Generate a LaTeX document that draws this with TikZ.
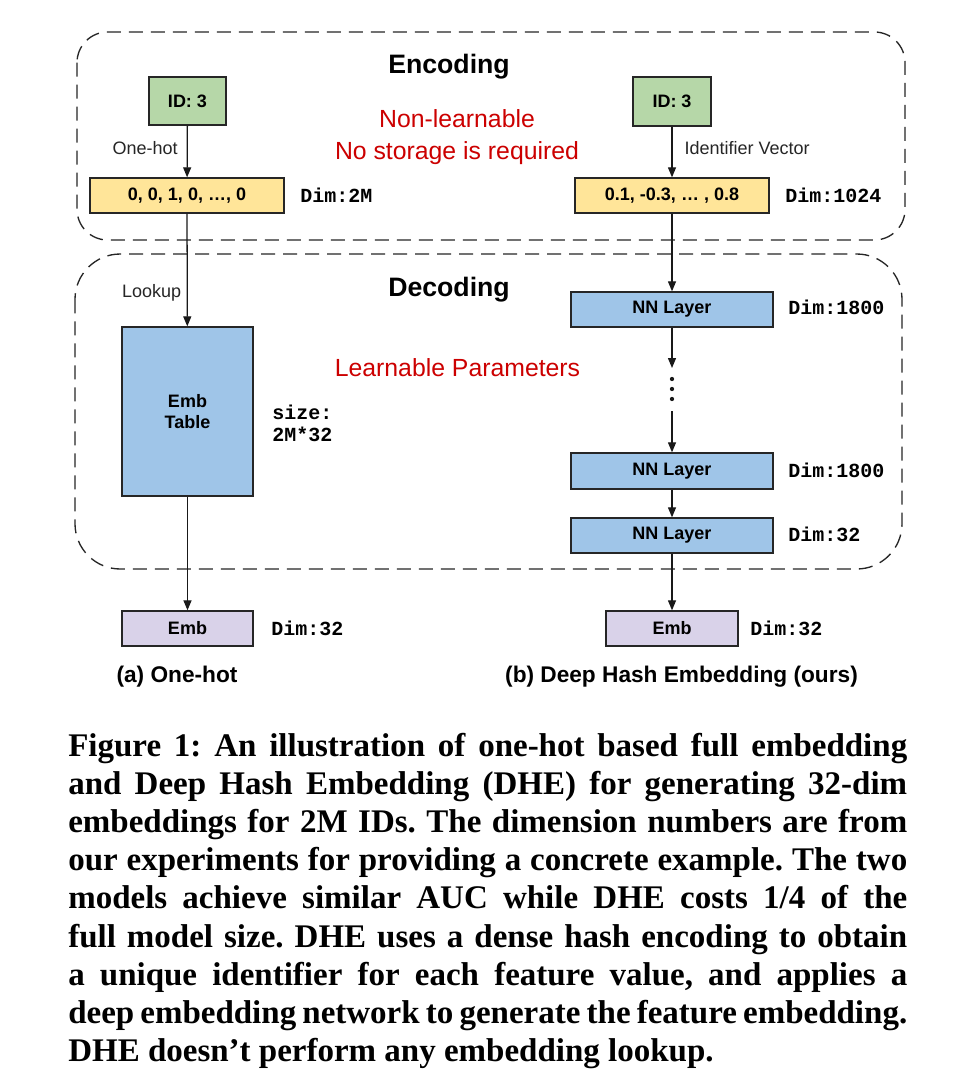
\documentclass[tikz,border=0pt]{standalone}
\usepackage{fontspec}
\setmainfont{Liberation Sans}
\newfontfamily\capfont{Liberation Serif}
\newfontfamily\monof{Liberation Mono}
\usetikzlibrary{arrows.meta}
\newdimen\px \px=0.75pt
\definecolor{gfill}{HTML}{B6D7A8}
\definecolor{yfill}{HTML}{FFE599}
\definecolor{bfill}{HTML}{9FC5E8}
\definecolor{pfill}{HTML}{D9D2E9}
\definecolor{redc}{HTML}{CC0000}
\newcommand{\capline}[1]{\hbox to \linewidth{\spaceskip=0.25em plus 1em minus 0.1em #1}}
\begin{document}
\begin{tikzpicture}[x=0.75pt,y=-0.75pt,
  box/.style={draw=black!85, line width=1pt, inner sep=0pt,
    font=\fontsize{13.5}{16}\selectfont\bfseries, text=black, align=center},
  lbl/.style={font=\fontsize{13.5}{16}\selectfont, inner sep=0pt, text=black!85},
  dimlbl/.style={font=\monof\fontsize{15}{16.5}\selectfont\bfseries, anchor=west, inner sep=0pt, align=left},
  ttl/.style={font=\fontsize{20}{24}\selectfont\bfseries, inner sep=0pt},
  redtxt/.style={text=redc, font=\fontsize{18.6}{24}\selectfont, inner sep=0pt, align=center},
  subcap/.style={font=\fontsize{17}{20}\selectfont\bfseries, inner sep=0pt},
  arr/.style={-{Triangle[length=7.5pt,width=6pt]}, line width=0.95pt, draw=black!90},
  region/.style={draw=black!85, line width=1pt, dash pattern=on 10.5pt off 6pt}
]
\fill[white] (0,0) rectangle (980,1092);
\useasboundingbox (0,0) rectangle (980,1092);

% dashed regions
\draw[region, rounded corners=23pt] (77,32) rectangle (905,240);
\draw[region, rounded corners=34pt] (75,254) rectangle (902,569);

\node[ttl] (enc) at (449,67) {Encoding};
\node[ttl] (dec) at (449,290) {Decoding};
\node[redtxt] (nonl) at (457,137) {Non-learnable\\No storage is required};
\node[redtxt] (learn) at (457.5,368) {Learnable Parameters};

% left column
\node[box, fill=gfill, minimum width=77\px, minimum height=48\px] (idL) at (187.5,101) {ID: 3};
\node[box, fill=yfill, minimum width=194\px, minimum height=35\px] (vecL) at (187,195.5) {0, 0, 1, 0, …, 0};
\node[box, fill=bfill, minimum width=131\px, minimum height=169\px] (embT) at (187.5,411.5) {Emb\\Table};
\node[box, fill=pfill, minimum width=131\px, minimum height=35\px] (embL) at (187.5,628.5) {Emb};

% right column
\node[box, fill=gfill, minimum width=78\px, minimum height=49\px] (idR) at (672,101.5) {ID: 3};
\node[box, fill=yfill, minimum width=194\px, minimum height=35\px] (vecR) at (672,195.5) {0.1, -0.3, … , 0.8};
\node[box, fill=bfill, minimum width=202\px, minimum height=35\px] (nn1) at (672,309.5) {NN Layer};
\node[box, fill=bfill, minimum width=202\px, minimum height=36\px] (nn2) at (672,471) {NN Layer};
\node[box, fill=bfill, minimum width=202\px, minimum height=35\px] (nn3) at (672,535.5) {NN Layer};
\node[box, fill=pfill, minimum width=132\px, minimum height=35\px] (embR) at (672,628.5) {Emb};

% dots
\coordinate (dtop) at (672,368);
\coordinate (dbot) at (672,411);
\foreach \yy in {379,389,399} \fill[black!90] (672,\yy) circle[radius=1.6pt];

% connectors
\draw[arr] (idL) -- node[lbl, anchor=east, pos=0.43, xshift=-9\px]{One-hot} (vecL);
\draw[arr] (vecL) -- node[lbl, anchor=east, pos=0.70, xshift=-5.5\px]{Lookup} (embT);
\draw[arr] (embT) -- (embL);
\draw[arr] (idR) -- node[lbl, anchor=west, pos=0.42, xshift=12\px]{Identifier Vector} (vecR);
\draw[arr] (vecR) -- (nn1);
\draw[arr] (nn1) -- (dtop);
\draw[arr] (dbot) -- (nn2);
\draw[arr] (nn2) -- (nn3);
\draw[arr] (nn3) -- (embR);

% dimension labels
\node[dimlbl] (d1) at (300,195) {Dim:2M};
\node[dimlbl] (d2) at (785,195) {Dim:1024};
\node[dimlbl] (d3) at (272,423) {size:\\2M*32};
\node[dimlbl] (d4) at (788,307) {Dim:1800};
\node[dimlbl] (d5) at (788,470) {Dim:1800};
\node[dimlbl] (d6) at (788,534) {Dim:32};
\node[dimlbl] (d7) at (271,628) {Dim:32};
\node[dimlbl] (d8) at (750,628) {Dim:32};

% sub captions
\node[subcap] (sa) at (177,677) {(a) One-hot};
\node[subcap] (sb) at (681.5,677) {(b) Deep Hash Embedding (ours)};

% caption
\node[anchor=base west, inner sep=0pt] (cap) at (68,756) {\begin{minipage}[t]{839\px}
\capfont\fontsize{24.75}{28.65}\selectfont\bfseries\frenchspacing
\capline{Figure 1: An illustration of one-hot based full embedding}
\capline{and Deep Hash Embedding (DHE) for generating 32-dim}
\capline{embeddings for 2M IDs. The dimension numbers are from}
\capline{our experiments for providing a concrete example. The two}
\capline{models achieve similar AUC while DHE costs 1/4 of the}
\capline{full model size. DHE uses a dense hash encoding to obtain}
\capline{a unique identifier for each feature value, and applies a}
\capline{deep embedding network to generate the feature embedding.}
\hbox{DHE doesn’t perform any embedding lookup.}
\end{minipage}};
\end{tikzpicture}
\end{document}
